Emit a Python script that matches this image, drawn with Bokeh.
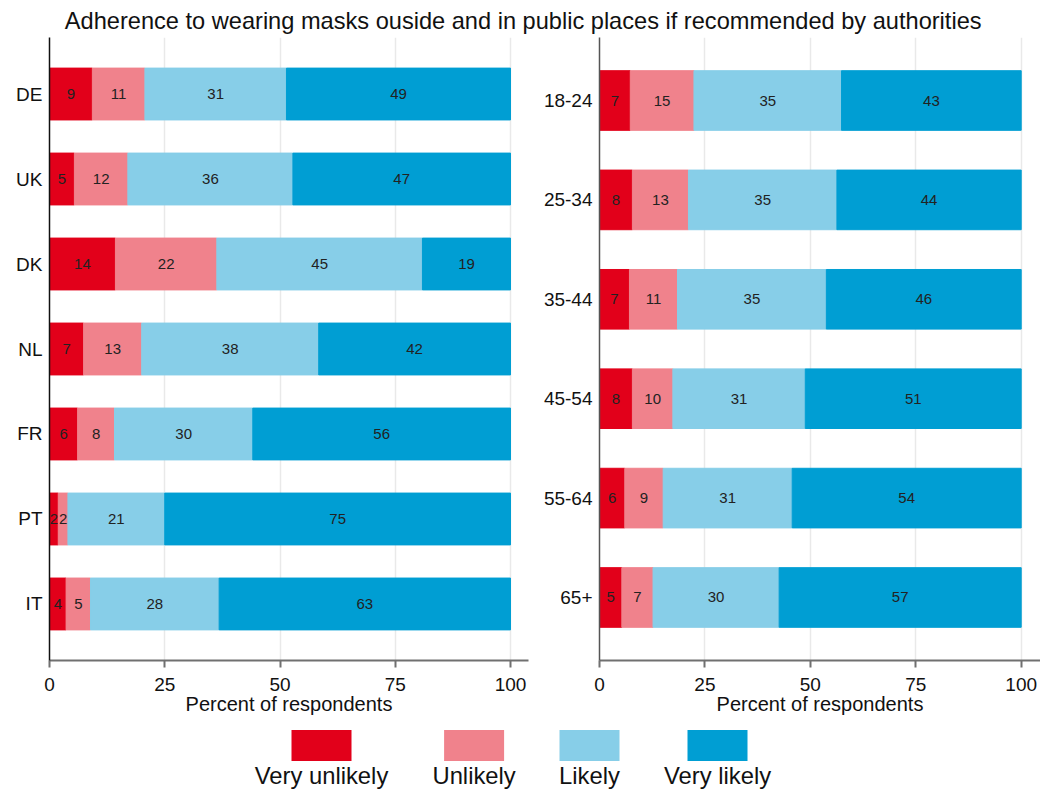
from bokeh.plotting import figure
from bokeh.models import FactorRange, Range1d, ColumnDataSource, FixedTicker
from bokeh.layouts import column, row
from bokeh.embed import file_html
from bokeh.resources import INLINE
from bokeh.core.properties import value

TITLE = "Adherence to wearing masks ouside and in public places if recommended by authorities"
LEVELS = ["Very unlikely", "Unlikely", "Likely", "Very likely"]
COLORS = ["#e2001a", "#f0828c", "#87cee8", "#009ed3"]
X_LABEL = "Percent of respondents"
x_ticks = [0, 25, 50, 75, 100]

countries = ["DE", "UK", "DK", "NL", "FR", "PT", "IT"]
c_very_unlikely = [9.3, 5.4, 14.3, 7.4, 6.1, 1.9, 3.6]
c_unlikely = [11.4, 11.6, 22.0, 12.6, 8.0, 2.1, 5.3]
c_likely = [30.7, 35.8, 44.6, 38.4, 30.0, 21.0, 27.9]
c_very_likely = [48.6, 47.2, 19.1, 41.6, 55.9, 75.0, 63.2]

ages = ["18-24", "25-34", "35-44", "45-54", "55-64", "65+"]
a_very_unlikely = [7.3, 7.8, 7.1, 7.8, 6.0, 5.3]
a_unlikely = [15.1, 13.3, 11.4, 9.6, 9.1, 7.4]
a_likely = [35.0, 35.2, 35.3, 31.4, 30.6, 29.9]
a_very_likely = [42.6, 43.7, 46.2, 51.2, 54.3, 57.4]

FONT = "Liberation Sans"
TITLE_H = 36
PANEL_H = 684
LEGEND_H = 70


def panel(cats, series, width, bl, br, x_end, bar_h, pad, yaxis_color):
    p = figure(width=width, height=PANEL_H,
               y_range=FactorRange(factors=cats[::-1], range_padding=pad,
                                   range_padding_units="absolute"),
               x_range=Range1d(0, x_end), output_backend="svg", toolbar_location=None,
               min_border_left=bl, min_border_right=br, min_border_top=1,
               min_border_bottom=60)
    p.outline_line_color = None
    data = {"cat": cats}
    for lev, s in zip(LEVELS, series):
        data[lev] = s
    src = ColumnDataSource(data)
    p.hbar_stack(LEVELS, y="cat", height=bar_h, color=COLORS, source=src)

    xs, ys, ts = [], [], []
    for i, c in enumerate(cats):
        left = 0.0
        for s in series:
            v = s[i]
            xs.append(left + v / 2.0)
            ys.append(c)
            ts.append(f"{round(v)}")
            left += v
    p.text(x=xs, y=ys, text=ts, text_align="center", text_baseline="middle",
           text_font=value(FONT), text_font_size=value("15px"), text_color="#222222")

    p.ygrid.visible = False
    p.xgrid.ticker = FixedTicker(ticks=x_ticks)
    p.xgrid.grid_line_color = "#e9e9e9"
    p.xgrid.grid_line_width = 1.5

    xa = p.xaxis[0]
    xa.ticker = FixedTicker(ticks=x_ticks)
    xa.axis_label = X_LABEL
    xa.axis_label_text_font = FONT
    xa.axis_label_text_font_size = "20px"
    xa.axis_label_text_font_style = "normal"
    xa.axis_label_text_color = "#111111"
    xa.axis_label_standoff = -1
    xa.major_label_text_font = FONT
    xa.major_label_text_font_size = "19px"
    xa.major_label_text_color = "#111111"
    xa.major_label_standoff = 10
    xa.axis_line_color = "#707070"
    xa.axis_line_width = 2
    xa.major_tick_line_color = "#707070"
    xa.major_tick_line_width = 2
    xa.major_tick_out = 7
    xa.major_tick_in = 0
    xa.minor_tick_line_color = None

    ya = p.yaxis[0]
    ya.major_label_text_font = FONT
    ya.major_label_text_font_size = "19px"
    ya.major_label_text_color = "#111111"
    ya.major_label_standoff = 7
    ya.axis_line_color = yaxis_color
    ya.axis_line_width = 1.5
    ya.major_tick_line_color = None
    ya.major_tick_out = 0
    ya.major_tick_in = 0
    ya.minor_tick_line_color = None
    return p


left = panel(countries, [c_very_unlikely, c_unlikely, c_likely, c_very_likely],
             width=535, bl=49, br=7, x_end=479 / 4.61, bar_h=0.61, pad=0.165,
             yaxis_color="#111111")
right = panel(ages, [a_very_unlikely, a_unlikely, a_likely, a_very_likely],
              width=505, bl=64, br=0, x_end=441 / 4.217, bar_h=0.6, pad=0.134,
              yaxis_color="#555555")

# title strip
tfig = figure(width=1040, height=TITLE_H, x_range=Range1d(0, 1040),
              y_range=Range1d(0, TITLE_H), output_backend="svg", toolbar_location=None,
              min_border=0, x_axis_location=None, y_axis_location=None)
tfig.outline_line_color = None
tfig.grid.visible = False
tfig.text(x=[522.7], y=[16], text=[TITLE], text_align="center", text_baseline="middle",
          text_font=value(FONT), text_font_size=value("23.6px"), text_color="#111111")

# legend strip
LEG_X = [321, 473.6, 589, 717]
lfig = figure(width=1040, height=LEGEND_H, x_range=Range1d(0, 1040),
              y_range=Range1d(0, LEGEND_H), output_backend="svg", toolbar_location=None,
              min_border=0, x_axis_location=None, y_axis_location=None)
lfig.outline_line_color = None
lfig.grid.visible = False
lfig.rect(x=LEG_X, y=[45] * 4, width=60, height=31, fill_color=COLORS, line_color=None)
lfig.text(x=LEG_X, y=[15.5] * 4, text=LEVELS, text_align="center", text_baseline="middle",
          text_font=value(FONT), text_font_size=value("23.8px"), text_color="#111111")

layout = column(tfig, row(left, right), lfig)
open("out.html", "w").write(file_html(layout, INLINE))
